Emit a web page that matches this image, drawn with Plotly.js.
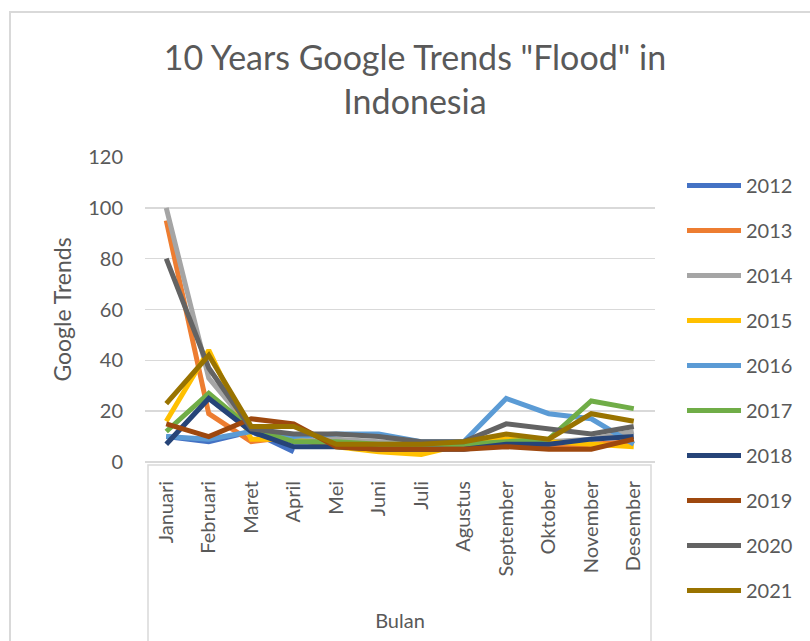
<!DOCTYPE html>
<html>
<head>
<meta charset="utf-8">
<script src="https://cdn.plot.ly/plotly-3.0.1.min.js"></script>
<style>html,body{margin:0;padding:0;background:#fff;}#chart{width:810px;height:641px;}</style>
</head>
<body>
<div id="chart"></div>
<script>
const months = ["Januari","Februari","Maret","April","Mei","Juni","Juli","Agustus","September","Oktober","November","Desember"];
const years = ["2012","2013","2014","2015","2016","2017","2018","2019","2020","2021"];
const y2012 = [10, 8, 12, 4, null, null, null, null, null, null, null, null];
const y2013 = [95, 19, 8, 10, 7, 6, 5, 6, 7, 6, 7, 8];
const y2014 = [100, 33, 13, 10, 9, 8, 7, 7, 9, 8, 9, 12];
const y2015 = [16, 44, 9, 9, 6, 4, 3, 7, 9, 8, 7, 6];
const y2016 = [10, 9, 12, 10, 11, 11, 8, 8, 25, 19, 17, 7];
const y2017 = [12, 27, 13, 8, 8, 7, 7, 7, 8, 9, 24, 21];
const y2018 = [7, 25, 12, 6, 6, 5, 5, 5, 7, 7, 9, 10];
const y2019 = [15, 10, 17, 15, 6, 5, 5, 5, 6, 5, 5, 9];
const y2020 = [80, 37, 13, 11, 11, 10, 8, 8, 15, 13, 11, 14];
const y2021 = [23, 42, 14, 14, 7, 7, 7, 8, 11, 9, 19, 16];
const series = [y2012, y2013, y2014, y2015, y2016, y2017, y2018, y2019, y2020, y2021];
const colors = ["#4472C4","#ED7D31","#A5A5A5","#FFC000","#5B9BD5","#70AD47","#264478","#9E480E","#636363","#997300"];

const font = "Lato, 'Open Sans', sans-serif";
const txt = "#595959";

const traces = series.map((vals, i) => ({
  type: "scatter",
  mode: "lines",
  x: months,
  y: vals,
  name: years[i],
  legendgroup: years[i],
  line: {color: colors[i], width: 5},
  connectgaps: false,
  hoverinfo: "x+y+name"
}));

const layout = {
  width: 810, height: 641,
  margin: {l: 145, r: 155, t: 157, b: 179},
  paper_bgcolor: "#fff", plot_bgcolor: "#fff",
  font: {family: font, color: txt},
  title: {
    text: '10 Years Google Trends "Flood" in<br>Indonesia',
    font: {family: font, size: 34, color: txt},
    x: 415/810, xref: "container", xanchor: "center",
    y: 1 - 70/641, yref: "container", yanchor: "middle"
  },
  xaxis: {
    type: "category",
    range: [-0.5, 11.5],
    showgrid: false,
    showline: false,
    zeroline: false,
    ticks: "",
    tickangle: -90,
    tickfont: {family: font, size: 20, color: txt},
    ticklabelstandoff: 14,
    title: {text: "Bulan", font: {family: font, size: 20, color: txt}, standoff: 38},
    automargin: false,
    fixedrange: true
  },
  yaxis: {
    range: [0, 120],
    dtick: 20,
    showgrid: true,
    gridcolor: "#D9D9D9",
    gridwidth: 1.5,
    zeroline: true,
    zerolinecolor: "#D9D9D9",
    zerolinewidth: 1.5,
    showline: false,
    ticks: "",
    tickfont: {family: font, size: 20, color: txt},
    ticklabelstandoff: 21,
    title: {text: "Google Trends", font: {family: font, size: 23, color: txt}, standoff: 10},
    automargin: false,
    fixedrange: true
  },
  legend: {
    x: (682-145)/510, xanchor: "left",
    y: (462-166)/305, yanchor: "top",
    font: {family: font, size: 20, color: txt},
    tracegroupgap: 16,
    itemwidth: 54,
    maxheight: 600,
    bgcolor: "rgba(0,0,0,0)",
    borderwidth: 0
  },
  shapes: [
    {type: "rect", xref: "paper", yref: "paper",
     x0: (148-145)/510, x1: (651-145)/510, y0: -(700-462)/305, y1: -(465-462)/305,
     line: {color: "#D9D9D9", width: 1.5}, layer: "below"},
    {type: "rect", xref: "paper", yref: "paper",
     x0: (10-145)/510, x1: (830-145)/510, y0: -(700-462)/305, y1: (462-12)/305,
     line: {color: "#D9D9D9", width: 2}, layer: "below"}
  ],
  showlegend: true
};

Plotly.newPlot("chart", traces, layout, {displayModeBar: false, staticPlot: true});
</script>
</body>
</html>
